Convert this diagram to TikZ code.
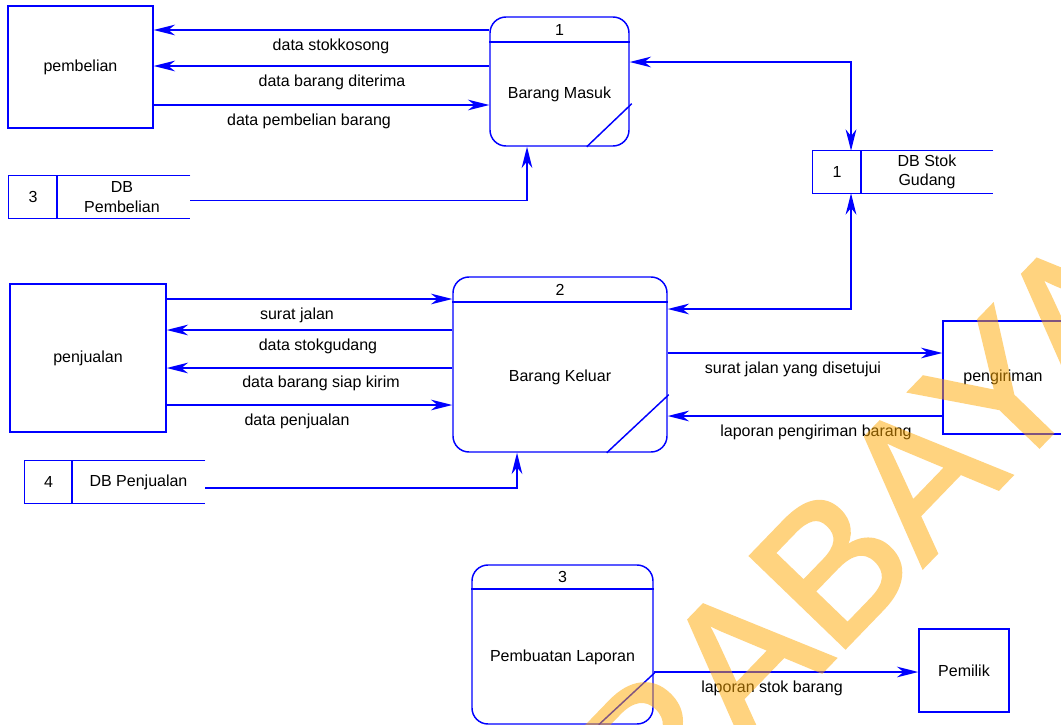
\documentclass[tikz,border=0pt]{standalone}
\usepackage{fontspec}
\setmainfont{Liberation Sans}
\newfontfamily\markfont[FakeBold=2]{Liberation Sans}
\usetikzlibrary{arrows.meta,calc}
\definecolor{dfdblue}{RGB}{0,0,255}
\definecolor{wmorange}{RGB}{255,168,0}
\begin{document}
\begin{tikzpicture}[x=0.75pt,y=-0.75pt,
  lbl/.style={font=\fontsize{12}{14}\selectfont, inner sep=0pt, text=black},
  entity/.style={draw=dfdblue, line width=1.1pt, inner sep=0pt, font=\fontsize{12}{14}\selectfont},
  proc/.style={draw=dfdblue, line width=1.1pt, rounded corners=12pt, inner sep=0pt},
  storearea/.style={inner sep=0pt},
  dfdline/.style={draw=dfdblue, line width=1.1pt},
  tip/.tip={Stealth[length=16pt,width=8pt,inset=5pt]},
  flow/.style={dfdline, -tip},
  flowboth/.style={dfdline, tip-tip},
]
\useasboundingbox (0,0) rectangle (1061,725);
\fill[white] (0,0) rectangle (1061,725);
\clip (0,0) rectangle (1061,725);

% ---------- external entities ----------
\node[entity, minimum width=108.75pt, minimum height=91.5pt] (pem) at (80.5,67) {pembelian};
\node[entity, minimum width=117pt, minimum height=111pt] (pen) at (88,358) {penjualan};
\node[entity, minimum width=90pt, minimum height=84.75pt] (kir) at (1003,377.5) {pengiriman};
\node[entity, minimum width=67.5pt, minimum height=62.25pt] (own) at (964,670.5) {Pemilik};

% ---------- processes ----------
\node[proc, minimum width=104.25pt, minimum height=96.75pt] (p1) at (559.5,81.5) {};
\draw[dfdline] (p1.west |- 0,42) -- (p1.east |- 0,42);
\node[lbl] (p1n) at (559.5,29.5) {1};
\node[lbl] (p1t) at (559.5,94) {Barang Masuk};
\draw[dfdline] ($(p1.south east)+(-43,0)$) -- ($(p1.south east)+(2,-43)$);

\node[proc, minimum width=160.5pt, minimum height=131.25pt] (p2) at (560,364.5) {};
\draw[dfdline] (p2.west |- 0,302) -- (p2.east |- 0,302);
\node[lbl] (p2n) at (560,289.5) {2};
\node[lbl] (p2t) at (560,377) {Barang Keluar};
\draw[dfdline] ($(p2.south east)+(-61,0)$) -- ($(p2.south east)+(1,-58)$);

\node[proc, minimum width=135.75pt, minimum height=119.25pt] (p3) at (562.5,644.5) {};
\draw[dfdline] (p3.west |- 0,589) -- (p3.east |- 0,589);
\node[lbl] (p3n) at (562.5,577) {3};
\node[lbl] (p3t) at (562.5,657) {Pembuatan Laporan};
\draw[dfdline] ($(p3.south east)+(-55,0)$) -- ($(p3.south east)+(1,-52)$);

% ---------- data stores ----------
\node[storearea, minimum width=135pt, minimum height=31.5pt] (ds1) at (903,172) {};
\draw[dfdline] (ds1.north east) -- (ds1.north west) -- (ds1.south west) -- (ds1.south east);
\draw[dfdline] (ds1.north -| 861,0) -- (ds1.south -| 861,0);
\node[lbl] (ds1n) at (837,172) {1};
\node[lbl, align=center, font=\fontsize{12}{14.5}\selectfont] (ds1t) at (927,172) {DB Stok\\Gudang};

\node[storearea, minimum width=135.75pt, minimum height=31.5pt] (ds3) at (99.5,197) {};
\draw[dfdline] (ds3.north east) -- (ds3.north west) -- (ds3.south west) -- (ds3.south east);
\draw[dfdline] (ds3.north -| 57,0) -- (ds3.south -| 57,0);
\node[lbl] (ds3n) at (33,197) {3};
\node[lbl, align=center, font=\fontsize{12}{15}\selectfont] (ds3t) at (122,197) {DB\\Pembelian};

\node[storearea, minimum width=135pt, minimum height=31.5pt] (ds4) at (115,482) {};
\draw[dfdline] (ds4.north east) -- (ds4.north west) -- (ds4.south west) -- (ds4.south east);
\draw[dfdline] (ds4.north -| 72,0) -- (ds4.south -| 72,0);
\node[lbl] (ds4n) at (48.5,482) {4};
\node[lbl] (ds4t) at (138.5,482) {DB Penjualan};

% ---------- flows around process 1 ----------
\draw[flow] (p1.west |- 0,30) -- (pem.east |- 0,30);
\node[lbl] (f1) at (331,46) {data stokkosong};
\draw[flow] (p1.west |- 0,66) -- (pem.east |- 0,66);
\node[lbl] (f2) at (332,82) {data barang diterima};
\draw[flow] (pem.east |- 0,105) -- (p1.west |- 0,105);
\node[lbl] (f3) at (309,121) {data pembelian barang};
\draw[flow] (ds3.east |- 0,200.5) -| (p1.south -| 527,0);
\draw[flowboth] (p1.east |- 0,62) -| (ds1.north -| 851,0);
\draw[flowboth] (ds1.south -| 851,0) |- (p2.east |- 0,309);

% ---------- flows around process 2 ----------
\draw[flow] (pen.east |- 0,299) -- (p2.west |- 0,299);
\node[lbl] (f4) at (297,315) {surat jalan};
\draw[flow] (p2.west |- 0,330) -- (pen.east |- 0,330);
\node[lbl] (f5) at (318,346) {data stokgudang};
\draw[flow] (p2.west |- 0,368) -- (pen.east |- 0,368);
\node[lbl] (f6) at (321,383) {data barang siap kirim};
\draw[flow] (pen.east |- 0,405) -- (p2.west |- 0,405);
\node[lbl] (f7) at (297,421) {data penjualan};
\draw[flow] (ds4.east |- 0,488) -| (p2.south -| 517,0);
\draw[flow] (p2.east |- 0,353) -- (kir.west |- 0,353);
\node[lbl] (f8) at (793,369) {surat jalan yang disetujui};
\draw[flow] (kir.west |- 0,416) -- (p2.east |- 0,416);
\node[lbl] (f9) at (816,432) {laporan pengiriman barang};

% ---------- flow from process 3 ----------
\draw[flow] (p3.east |- 0,672) -- (own.west |- 0,672);
\node[lbl] (f10) at (772,688) {laporan stok barang};

% ---------- watermark (stroke and fill merged before blending) ----------
\begin{scope}[transparency group, opacity=0.5]
\node[rotate=46, anchor=base west, inner sep=0pt, text=wmorange,
      font=\fontsize{143}{143}\selectfont\markfont] (wm) at (466.5,1039.5) {SURABAYA};
\end{scope}
\end{tikzpicture}
\end{document}
